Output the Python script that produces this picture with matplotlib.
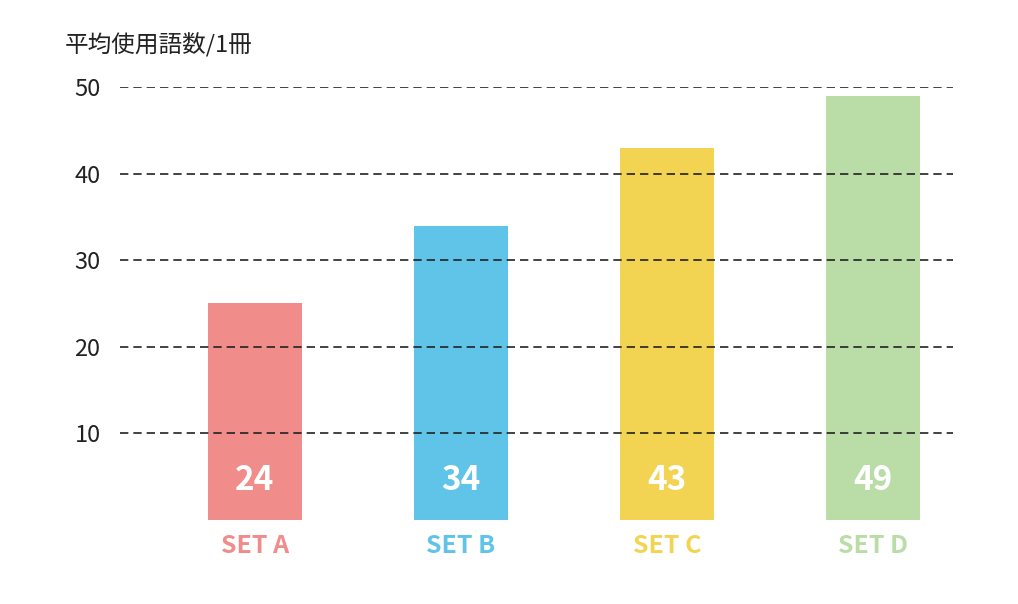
import matplotlib
matplotlib.use("Agg")
import matplotlib.pyplot as plt

categories = ["SET A", "SET B", "SET C", "SET D"]
heights = [25, 34, 43, 49]
labels = ["24", "34", "43", "49"]
colors = ["#F08C8A", "#5FC4E8", "#F2D452", "#BADDA8"]
yticks = [10, 20, 30, 40, 50]

plt.rcParams['font.family'] = ['Noto Sans CJK JP', 'DejaVu Sans']
fig = plt.figure(figsize=(10.18, 6.04), dpi=100)
ax = fig.add_axes([120/1018, 1-520/604, (953-120)/1018, (520-87)/604])
x = list(range(len(categories)))
ax.bar(x, heights, width=0.46, color=colors, zorder=1)
for yt in yticks:
    ax.axhline(yt, color="#222222", lw=1.2, ls=(0, (5, 3)), zorder=2)
ax.set_xlim(-0.655, 3.388)
ax.set_ylim(0, 50)
ax.set_yticks(yticks)
ax.set_yticklabels([str(t) for t in yticks], fontsize=17, color="#222222")
ax.tick_params(axis='y', length=0, pad=14)
ax.set_xticks(x)
ax.set_xticklabels(categories, fontsize=18, fontweight='bold')
for t, c in zip(ax.get_xticklabels(), colors):
    t.set_color(c)
ax.tick_params(axis='x', length=0, pad=10)
for s in ax.spines.values():
    s.set_visible(False)
for xi, lab in zip(x, labels):
    ax.text(xi, 4.6, lab, ha='center', va='center', color='white', fontsize=24, fontweight='bold', zorder=3)
fig.text(65/1018, 1-45/604, "平均使用語数/1冊", fontsize=17, color="#222222", va='center', ha='left')
fig.savefig("out.png", dpi=100, facecolor="white")
